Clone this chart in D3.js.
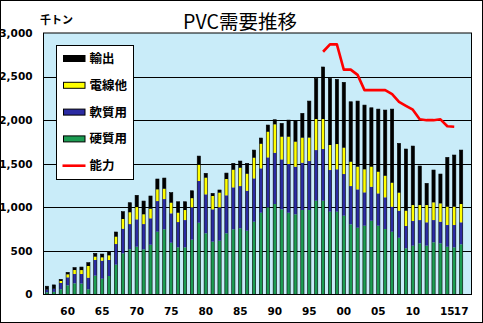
<!DOCTYPE html>
<html><head><meta charset="utf-8">
<script src="https://cdn.jsdelivr.net/npm/d3@7"></script>
<style>body{margin:0;background:#fff}svg{display:block}</style>
</head><body><svg id="c" width="483" height="323"></svg>
<script>
const years = d3.range(1957, 2018);
const hard   = [25,30,60,105,128,125,60,216,181,212,342,472,518,548,518,571,720,748,594,541,541,629,823,702,606,617,702,748,759,732,835,938,1000,1038,977,938,920,969,969,1076,1076,950,950,904,805,766,789,846,789,751,720,651,530,560,587,560,599,587,548,541,576];
const soft   = [30,35,72,92,107,110,133,180,207,184,237,283,290,314,290,303,352,347,337,290,313,371,479,447,371,383,436,481,485,458,497,509,573,588,573,559,546,543,562,581,593,478,486,478,439,440,383,390,371,364,287,310,256,283,267,268,255,248,249,256,252];
const wire   = [0,0,23,34,46,45,134,38,38,53,84,111,135,141,112,110,134,118,122,107,115,105,187,191,153,168,187,202,210,195,237,282,294,326,260,313,287,287,269,356,344,287,290,302,279,260,264,230,248,247,275,207,175,183,172,198,203,210,210,210,210];
const exportV= [40,45,19,23,27,35,38,38,38,42,54,84,110,135,152,146,119,123,115,126,95,85,99,50,30,31,68,74,77,120,88,66,77,53,153,191,237,279,419,466,597,764,742,750,688,753,737,676,719,754,845,566,708,677,448,249,371,337,566,593,619];
const capYears = d3.range(1997, 2017);
const capacity = [2785,2870,2870,2580,2580,2520,2345,2345,2345,2345,2300,2210,2165,2120,2010,2000,2000,2010,1930,1925];
const yTicks = [0,500,1000,1500,2000,2500,3000];
const xTickYears = [1960,1965,1970,1975,1980,1985,1990,1995,2000,2005,2010,2015,2017];
const seriesNames = ["硬質用","軟質用","電線他","輸出"];
const seriesColors = ["#1c9c52","#2b2ba3","#ffff00","#000000"];

const svg = d3.select("#c");
const L = 43.5, R = 471.5, T = 33, B = 294.5;
svg.append("rect").attr("x",0.5).attr("y",0.5).attr("width",482).attr("height",322).attr("fill","#fff").attr("stroke","#000");

const x = d3.scaleBand().domain(d3.range(1957, 2019)).range([L, R]);
const y = d3.scaleLinear().domain([0,3000]).range([B, T]);

svg.append("rect").attr("x",L).attr("y",T).attr("width",R-L).attr("height",B-T).attr("fill","#c9ecf9");

// grid
svg.append("g").selectAll("line").data(yTicks.slice(1,-1)).join("line")
  .attr("x1",L).attr("x2",R).attr("y1",d=>Math.round(y(d))+0.5).attr("y2",d=>Math.round(y(d))+0.5)
  .attr("stroke","#000").attr("stroke-width",1);

// stacked bars
const rows = years.map((yr,i)=>({year:yr, v:[hard[i],soft[i],wire[i],exportV[i]]}));
const bw = 3.2;
const bars = svg.append("g");
rows.forEach(r=>{
  let acc = 0;
  const cx = x(r.year) + x.bandwidth()/2;
  r.v.forEach((val,k)=>{
    if(val<=0){return;}
    bars.append("rect").attr("x",cx-bw/2).attr("width",bw)
      .attr("y",y(acc+val)).attr("height",y(acc)-y(acc+val))
      .attr("fill",seriesColors[k]);
    acc += val;
  });
  bars.append("rect").attr("x",cx-bw/2).attr("width",bw).attr("y",y(acc)).attr("height",y(0)-y(acc))
    .attr("fill","none").attr("stroke","#000").attr("stroke-width",0.6);
});

// capacity line
const line = d3.line().x((d,i)=>x(capYears[i])+x.bandwidth()/2).y(d=>y(d));
svg.append("path").datum(capacity).attr("d",line).attr("fill","none").attr("stroke","#ff0000").attr("stroke-width",2.6).attr("stroke-linejoin","round");

// plot border
svg.append("rect").attr("x",L).attr("y",T).attr("width",R-L).attr("height",B-T).attr("fill","none").attr("stroke","#000");

// axes labels
const numFont = "'DejaVu Sans', Verdana, sans-serif";
const yAxis = d3.axisLeft(y).tickValues(yTicks).tickSize(0).tickPadding(0).tickFormat(d3.format(","));
const gy = svg.append("g").attr("transform",`translate(${L-11},0)`).call(yAxis);
gy.select(".domain").remove();
gy.selectAll("text").attr("font-family",numFont).attr("font-weight","bold").attr("font-size","10.5px").attr("fill","#000");

const xAxis = d3.axisBottom(x).tickValues(xTickYears).tickSize(0).tickPadding(0)
  .tickFormat(d=>String(d%100).padStart(2,"0"));
const gx = svg.append("g").attr("transform",`translate(0,${B+13})`).call(xAxis);
gx.select(".domain").remove();
gx.selectAll("text").attr("font-family",numFont).attr("font-weight","bold").attr("font-size","10.5px").attr("fill","#000");

// title & unit
svg.append("text").attr("x",240).attr("y",29).attr("text-anchor","middle")
  .attr("font-family","'Noto Sans CJK JP', sans-serif").attr("font-size","19.5px").text("PVC需要推移");
svg.append("text").attr("x",40).attr("y",24)
  .attr("font-family","'Noto Sans CJK JP', sans-serif").attr("font-size","11px").attr("font-weight","bold").text("千トン");

// legend
const lg = svg.append("g");
lg.append("rect").attr("x",56.5).attr("y",45.5).attr("width",77).attr("height",134).attr("fill","#fff").attr("stroke","#000");
const legendItems = [
  {name:"輸出", color:seriesColors[3], type:"rect"},
  {name:"電線他", color:seriesColors[2], type:"rect"},
  {name:"軟質用", color:seriesColors[1], type:"rect"},
  {name:"硬質用", color:seriesColors[0], type:"rect"},
  {name:"能力", color:"#ff0000", type:"line"}
];
legendItems.forEach((it,i)=>{
  const cy = 58.5 + i*26.8;
  if(it.type==="rect"){
    lg.append("rect").attr("x",63.5).attr("y",cy-3).attr("width",21.5).attr("height",6)
      .attr("fill",it.color).attr("stroke","#000").attr("stroke-width",1);
  } else {
    lg.append("line").attr("x1",62.5).attr("x2",85.5).attr("y1",cy).attr("y2",cy)
      .attr("stroke",it.color).attr("stroke-width",2.6);
  }
  lg.append("text").attr("x",89.5).attr("y",cy+4.5)
    .attr("font-family","'Noto Sans CJK JP', sans-serif").attr("font-weight","bold").attr("font-size","12.5px").text(it.name);
});
</script></body></html>
